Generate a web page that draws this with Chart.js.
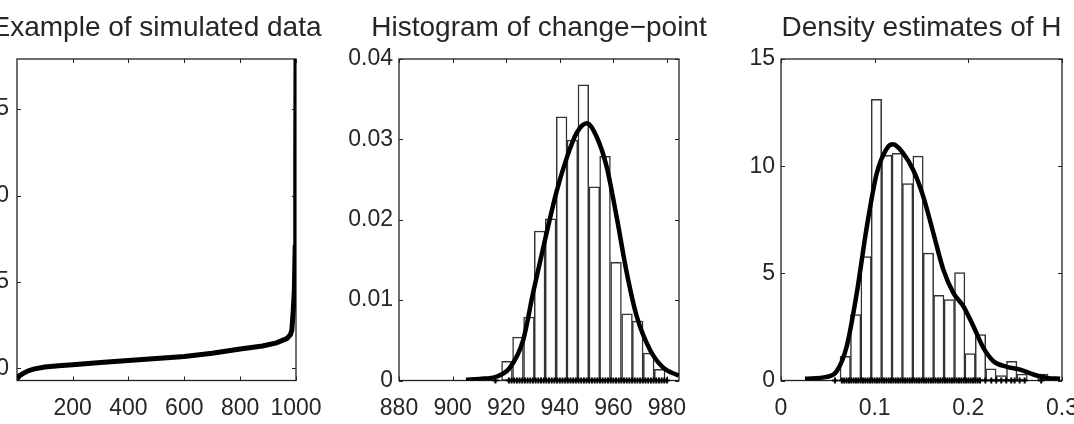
<!DOCTYPE html>
<html><head><meta charset="utf-8">
<script src="https://cdn.jsdelivr.net/npm/chart.js@4.4.1/dist/chart.umd.min.js"></script>
<style>
html,body{margin:0;padding:0;background:#fff;}
#wrap{position:relative;width:1074px;height:424px;overflow:hidden;background:#fff;}
canvas{position:absolute;top:0;}
</style></head><body>
<div id="wrap">
<canvas id="c1" width="393" height="424" style="left:-40px"></canvas>
<canvas id="c2" width="388" height="424" style="left:345px"></canvas>
<canvas id="c3" width="357" height="424" style="left:743px"></canvas>
</div>
<script>
// ---------- Panel 1: Example of simulated data ----------
const simX = [1, 10, 25, 40, 60, 100, 150, 200, 300, 400, 500, 600, 700, 800, 880, 930, 967, 980, 985, 990, 994, 997, 999, 1000];
const simY = [-0.62, -0.42, -0.27, -0.15, -0.04, 0.08, 0.15, 0.21, 0.34, 0.46, 0.57, 0.69, 0.88, 1.12, 1.3, 1.48, 1.72, 1.95, 2.2, 3.3, 4.5, 7.0, 12.0, 17.9];
const p1XTicks = [200, 400, 600, 800, 1000];
const p1XLabels = ['200', '400', '600', '800', '1000'];
const p1YTicks = [0, 5, 10, 15];
const p1YLabels = ['0', '5', '10', '15'];

// ---------- Panel 2: Histogram of change-point ----------
const cpBinCenters = [920.3, 924.4, 928.5, 932.5, 936.6, 940.7, 944.7, 948.8, 952.9, 956.9, 961.0, 965.1, 969.1, 973.2, 977.3];
const cpDensity = [0.0024, 0.0054, 0.0079, 0.0186, 0.0201, 0.0328, 0.0299, 0.0368, 0.0241, 0.0279, 0.0147, 0.0083, 0.0074, 0.0034, 0.0014];
const cpCurveX = [905, 910, 916.5, 921.4, 926.4, 930.1, 934.5, 938.8, 942.6, 946.3, 950.1, 953.8, 957.5, 961.2, 965.0, 968.7, 973.7, 978.6, 984.5];
const cpCurveY = [0.0001, 0.0002, 0.0005, 0.0016, 0.0051, 0.0110, 0.0175, 0.0235, 0.0277, 0.0308, 0.0320, 0.0303, 0.0266, 0.0204, 0.0134, 0.0080, 0.0038, 0.0016, 0.0006];
const cpRug = [916, 921, 922, 923, 924, 925, 926, 927, 928, 929, 930, 931, 932, 933, 934, 935, 936, 937, 938, 939, 940, 941, 942, 943, 944, 945, 946, 947, 948, 949, 950, 951, 952, 953, 954, 955, 956, 957, 958, 959, 960, 961, 962, 963, 964, 965, 966, 967, 968, 969, 970, 971, 972, 973, 974, 975, 976, 977, 978, 979, 980];
const p2XTicks = [880, 900, 920, 940, 960, 980];
const p2XLabels = ['880', '900', '920', '940', '960', '980'];
const p2YTicks = [0, 0.01, 0.02, 0.03, 0.04];
const p2YLabels = ['0', '0.01', '0.02', '0.03', '0.04'];

// ---------- Panel 3: Density estimates of H ----------
const hBinCenters = [0.0686, 0.0797, 0.0908, 0.1019, 0.1130, 0.1241, 0.1352, 0.1463, 0.1574, 0.1685, 0.1797, 0.1908, 0.2019, 0.2130, 0.2241, 0.2352, 0.2463, 0.2574, 0.2685, 0.2796];
const hDensity = [1.13, 3.07, 5.78, 13.12, 10.5, 10.6, 9.19, 10.47, 5.94, 3.97, 3.77, 5.04, 1.26, 2.14, 0.54, 0.23, 0.9, 0.3, 0, 0.3];
const hCurveX = [0.0256, 0.0488, 0.0595, 0.0702, 0.0809, 0.0916, 0.1022, 0.1129, 0.1193, 0.1307, 0.1413, 0.152, 0.1627, 0.1734, 0.1841, 0.1948, 0.2054, 0.2161, 0.2268, 0.2411, 0.2553, 0.2696, 0.2839, 0.298];
const hCurveY = [0.08, 0.17, 0.43, 1.6, 4.08, 7.17, 9.66, 10.82, 11.02, 10.59, 9.81, 8.57, 6.87, 5.16, 4.08, 3.46, 2.53, 1.52, 0.9, 0.64, 0.51, 0.28, 0.12, 0.08];
const hRug = [0.0577, 0.065, 0.0675, 0.07, 0.0725, 0.075, 0.0775, 0.08, 0.0825, 0.085, 0.0875, 0.09, 0.0925, 0.095, 0.0975, 0.1, 0.1025, 0.105, 0.1075, 0.11, 0.1125, 0.115, 0.1175, 0.12, 0.1225, 0.125, 0.1275, 0.13, 0.1325, 0.135, 0.1375, 0.14, 0.1425, 0.145, 0.1475, 0.15, 0.1525, 0.155, 0.1575, 0.16, 0.1625, 0.165, 0.1675, 0.17, 0.1725, 0.175, 0.1775, 0.18, 0.1825, 0.185, 0.1875, 0.19, 0.1925, 0.195, 0.1975, 0.2, 0.2025, 0.205, 0.2075, 0.21, 0.2125, 0.2182, 0.2245, 0.2298, 0.2352, 0.2405, 0.2458, 0.2494, 0.2548, 0.2601, 0.2778];
const p3XTicks = [0, 0.1, 0.2, 0.3];
const p3XLabels = ['0', '0.1', '0.2', '0.3'];
const p3YTicks = [0, 5, 10, 15];
const p3YLabels = ['0', '5', '10', '15'];

// ---------- styling ----------
const FONT = "'Liberation Sans', Arial, Helvetica, sans-serif";
const TXT = '#262626';
const AXC = '#222';

const boxPlugin = {
  id: 'matlabBox',
  beforeDatasetsDraw(chart) {
    const {ctx, chartArea: a, scales: {x, y}} = chart;
    ctx.save();
    ctx.strokeStyle = AXC;
    ctx.lineWidth = 1.3;
    ctx.strokeRect(a.left, a.top, a.right - a.left, a.bottom - a.top);
    const L = 4;
    ctx.lineWidth = 1;
    ctx.beginPath();
    x.ticks.forEach(t => {
      const px = Math.round(x.getPixelForValue(t.value)) + 0.5;
      ctx.moveTo(px, a.bottom); ctx.lineTo(px, a.bottom - L);
      ctx.moveTo(px, a.top); ctx.lineTo(px, a.top + L);
    });
    y.ticks.forEach(t => {
      const py = Math.round(y.getPixelForValue(t.value)) + 0.5;
      ctx.moveTo(a.left, py); ctx.lineTo(a.left + L, py);
      ctx.moveTo(a.right, py); ctx.lineTo(a.right - L, py);
    });
    ctx.stroke();
    ctx.restore();
  }
};

// axes title centred over the plotting box (like MATLAB's title)
const axTitlePlugin = {
  id: 'axTitle',
  afterDraw(chart, args, opts) {
    const {ctx, chartArea: a} = chart;
    ctx.save();
    ctx.font = '28px ' + FONT;
    ctx.fillStyle = TXT;
    ctx.textAlign = 'center';
    ctx.textBaseline = 'alphabetic';
    ctx.fillText(opts.text, (a.left + a.right) / 2, 36);
    ctx.restore();
  }
};

function pts(xs, ys) { return xs.map((v, i) => ({x: v, y: ys[i]})); }

function panel(id, o) {
  return new Chart(document.getElementById(id), {
    type: 'bar',
    data: { datasets: o.datasets },
    options: {
      responsive: false, animation: false, devicePixelRatio: 1,
      layout: { padding: { left: 0, right: o.padRight, top: 59, bottom: 0 } },
      plugins: {
        legend: { display: false }, tooltip: { enabled: false },
        title: { display: false },
        axTitle: { text: o.title }
      },
      scales: {
        x: { type: 'linear', min: o.xMin, max: o.xMax, offset: false,
          afterFit(s) { s.height = 43.5; s.paddingLeft = 0; s.paddingRight = 0; },
          afterBuildTicks(s) { s.ticks = o.xTicks.map(v => ({value: v})); },
          ticks: { autoSkip: false, maxRotation: 0, minRotation: 0, padding: 14, color: TXT,
            font: { family: FONT, size: 23 }, callback: (v, i) => o.xLabels[i] },
          grid: { display: false, drawTicks: false }, border: { display: false } },
        y: { type: 'linear', min: o.yMin, max: o.yMax,
          afterFit(s) { s.width = o.yWidth; s.paddingTop = 0; s.paddingBottom = 0; },
          afterBuildTicks(s) { s.ticks = o.yTicks.map(v => ({value: v})); },
          ticks: { autoSkip: false, padding: o.yPad, color: TXT,
            font: { family: FONT, size: 23 }, callback: (v, i) => o.yLabels[i] },
          grid: { display: false, drawTicks: false }, border: { display: false } }
      }
    },
    plugins: [boxPlugin, axTitlePlugin]
  });
}

function bars(cs, vs) {
  return { type: 'bar', data: pts(cs, vs), backgroundColor: '#ffffff', borderColor: '#333',
    borderWidth: 1.5, borderSkipped: false, categoryPercentage: 1, barPercentage: 1, order: 3 };
}
function curve(xs, ys, w) {
  return { type: 'line', data: pts(xs, ys), borderColor: '#000', borderWidth: w, pointRadius: 0,
    cubicInterpolationMode: 'monotone', fill: false, order: 0 };
}
function rug(vals) {
  return { type: 'line', showLine: false, data: vals.map(v => ({x: v, y: 0})), pointStyle: 'cross',
    pointRadius: 3, borderColor: '#000', backgroundColor: '#000', pointBorderWidth: 2, clip: false, order: 1 };
}

panel('c1', {
  title: 'Example of simulated data', padRight: 57, yWidth: 57, yPad: 8,
  xMin: 1, xMax: 1000, yMin: -0.7, yMax: 17.9,
  xTicks: p1XTicks, xLabels: p1XLabels, yTicks: p1YTicks, yLabels: p1YLabels,
  datasets: [{ type: 'line', data: pts(simX, simY), borderColor: '#000', borderWidth: 5,
    pointRadius: 0, tension: 0, fill: false, order: 0 }]
});

panel('c2', {
  title: 'Histogram of change\u2212point', padRight: 54, yWidth: 54, yPad: 6,
  xMin: 880, xMax: 984.5, yMin: 0, yMax: 0.04,
  xTicks: p2XTicks, xLabels: p2XLabels, yTicks: p2YTicks, yLabels: p2YLabels,
  datasets: [bars(cpBinCenters, cpDensity), curve(cpCurveX, cpCurveY, 4.5), rug(cpRug)]
});

panel('c3', {
  title: 'Density estimates of H', padRight: 38, yWidth: 38, yPad: 6,
  xMin: 0, xMax: 0.3, yMin: 0, yMax: 15,
  xTicks: p3XTicks, xLabels: p3XLabels, yTicks: p3YTicks, yLabels: p3YLabels,
  datasets: [bars(hBinCenters, hDensity), curve(hCurveX, hCurveY, 4.5), rug(hRug)]
});
</script>
</body></html>
